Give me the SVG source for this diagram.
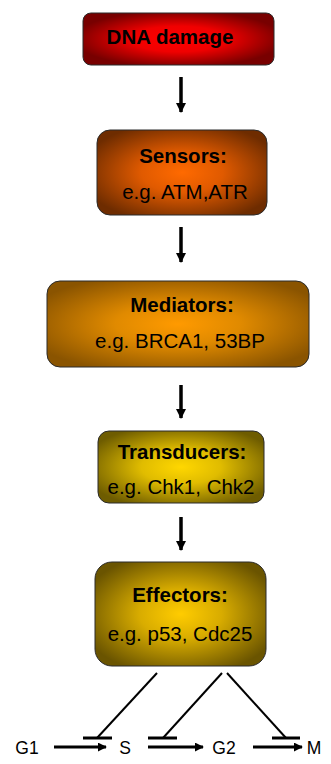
<svg xmlns="http://www.w3.org/2000/svg" width="331" height="764" viewBox="0 0 331 764">
  <defs>
    <radialGradient id="gRed" cx="50%" cy="50%" r="55%">
      <stop offset="0" stop-color="#ff0000"/>
      <stop offset="0.45" stop-color="#f00000"/>
      <stop offset="1" stop-color="#780000"/>
    </radialGradient>
    <radialGradient id="gOrange" cx="50%" cy="50%" r="60%">
      <stop offset="0" stop-color="#ff6a00"/>
      <stop offset="0.4" stop-color="#e05a00"/>
      <stop offset="1" stop-color="#6e2c00"/>
    </radialGradient>
    <radialGradient id="gAmber" cx="50%" cy="50%" r="60%">
      <stop offset="0" stop-color="#ff9a00"/>
      <stop offset="0.4" stop-color="#e08a00"/>
      <stop offset="1" stop-color="#8a5400"/>
    </radialGradient>
    <radialGradient id="gGold" cx="50%" cy="50%" r="60%">
      <stop offset="0" stop-color="#ffd700"/>
      <stop offset="0.4" stop-color="#e0bc00"/>
      <stop offset="1" stop-color="#6e5c00"/>
    </radialGradient>
    <radialGradient id="gOchre" cx="50%" cy="50%" r="60%">
      <stop offset="0" stop-color="#ffcc00"/>
      <stop offset="0.4" stop-color="#d8ac00"/>
      <stop offset="1" stop-color="#6a5400"/>
    </radialGradient>
    <marker id="head" viewBox="0 0 10 10" refX="9" refY="5" markerWidth="10" markerHeight="10" markerUnits="userSpaceOnUse" orient="auto">
      <path d="M0,0 L10,5 L0,10 Z" fill="#000"/>
    </marker>
    <marker id="headS" viewBox="0 0 10 10" refX="9" refY="5" markerWidth="9" markerHeight="9" markerUnits="userSpaceOnUse" orient="auto">
      <path d="M0,0 L10,5 L0,10 Z" fill="#000"/>
    </marker>
  </defs>
  <style>
    .box { stroke: #2a2a2a; stroke-width: 1; }
    .t { font-family: "Liberation Sans", Arial, sans-serif; font-size: 20.5px; fill: #000; text-anchor: middle; }
    .b { font-weight: bold; }
    .p { font-family: "Liberation Sans", Arial, sans-serif; font-size: 17.5px; fill: #000; text-anchor: middle; }
    .down { stroke: #000; stroke-width: 3.5; fill: none; marker-end: url(#head); }
    .flow { stroke: #000; stroke-width: 3; fill: none; marker-end: url(#headS); }
    .inh { stroke: #000; stroke-width: 2; fill: none; }
    .bar { stroke: #000; stroke-width: 3; fill: none; }
  </style>

  <g id="dna-damage">
    <rect class="box" x="83" y="13" width="191" height="52" rx="8" fill="url(#gRed)"/>
    <text class="t b" x="170" y="44">DNA damage</text>
  </g>

  <g id="sensors">
    <rect class="box" x="97" y="130" width="170" height="85" rx="13" fill="url(#gOrange)"/>
    <text class="t b" x="183" y="163">Sensors:</text>
    <text class="t" x="185" y="199">e.g. ATM,ATR</text>
  </g>

  <g id="mediators">
    <rect class="box" x="47" y="281" width="262" height="86" rx="13" fill="url(#gAmber)"/>
    <text class="t b" x="182" y="312">Mediators:</text>
    <text class="t" x="180" y="348">e.g. BRCA1, 53BP</text>
  </g>

  <g id="transducers">
    <rect class="box" x="98" y="431" width="166" height="72" rx="11" fill="url(#gGold)"/>
    <text class="t b" x="182" y="459">Transducers:</text>
    <text class="t" x="181" y="494">e.g. Chk1, Chk2</text>
  </g>

  <g id="effectors">
    <rect class="box" x="95" y="562" width="171" height="104" rx="17" fill="url(#gOchre)"/>
    <text class="t b" x="180" y="602">Effectors:</text>
    <text class="t" x="180" y="641">e.g. p53, Cdc25</text>
  </g>

  <g id="phase-g1"><text class="p" x="27" y="754">G1</text></g>
  <g id="phase-s"><text class="p" x="125" y="754">S</text></g>
  <g id="phase-g2"><text class="p" x="224" y="754">G2</text></g>
  <g id="phase-m"><text class="p" x="314" y="754">M</text></g>

  <g id="connectors">
    <line class="down" x1="181" y1="77" x2="181" y2="112"/>
    <line class="down" x1="181" y1="227" x2="181" y2="262"/>
    <line class="down" x1="181" y1="385" x2="181" y2="418"/>
    <line class="down" x1="181" y1="517" x2="181" y2="550"/>

    <line class="flow" x1="54" y1="747" x2="106" y2="747"/>
    <line class="flow" x1="148" y1="747" x2="203" y2="747"/>
    <line class="flow" x1="253" y1="747" x2="302" y2="747"/>

    <line class="inh" x1="157" y1="673" x2="97" y2="738"/>
    <line class="bar" x1="83" y1="738" x2="112" y2="738"/>
    <line class="inh" x1="222" y1="673" x2="163" y2="738"/>
    <line class="bar" x1="148" y1="738" x2="177" y2="738"/>
    <line class="inh" x1="227" y1="673" x2="286" y2="738"/>
    <line class="bar" x1="272" y1="738" x2="300" y2="738"/>
  </g>
</svg>
